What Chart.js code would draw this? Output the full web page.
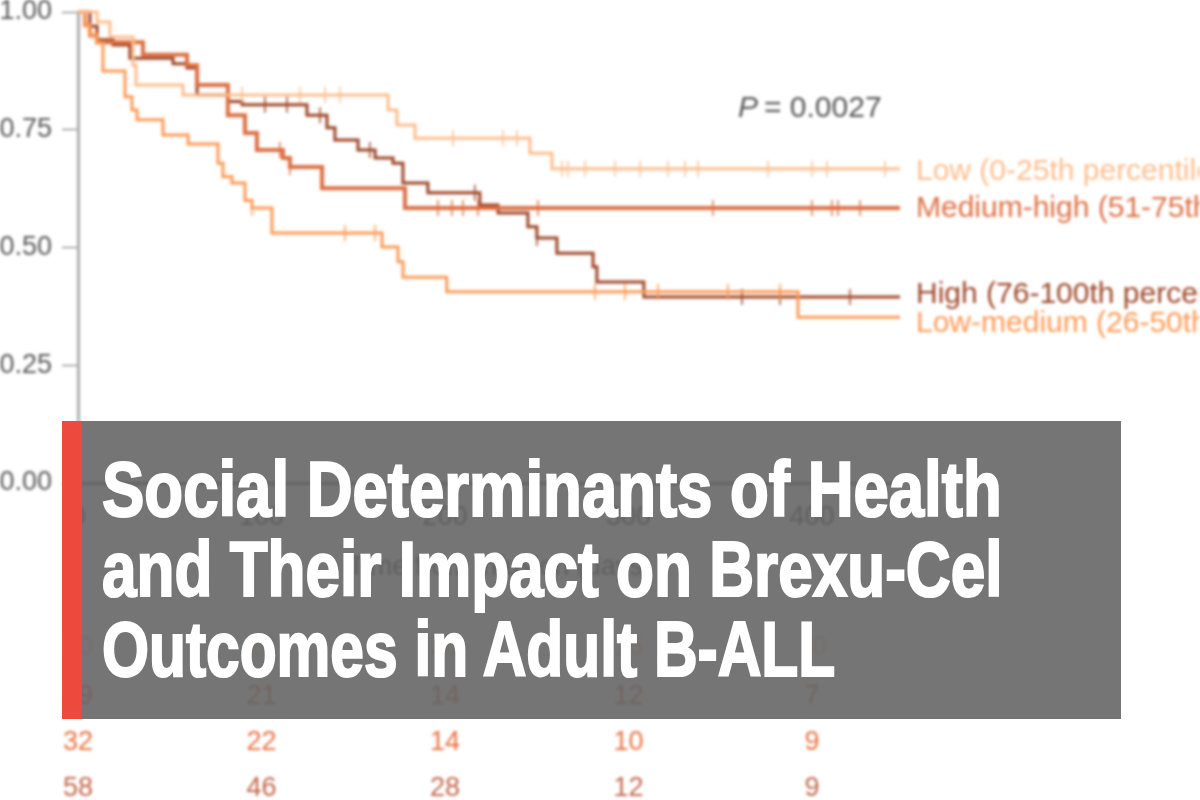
<!DOCTYPE html>
<html>
<head>
<meta charset="utf-8">
<title>Social Determinants of Health</title>
<script src="https://cdn.jsdelivr.net/npm/chart.js@4"></script>
<style>
    html, body { margin: 0; padding: 0; background: #fff; overflow: hidden; }
    #wrap { position: relative; width: 1200px; height: 800px; overflow: hidden; }
    #chart { position: absolute; left: 0; top: 0; filter: blur(1.4px); }
    #banner { position: absolute; left: 62px; top: 421px; width: 1059px; height: 298px; background: rgba(98, 98, 98, 0.88); }
    #stripe { position: absolute; left: 0; top: 0; width: 20px; height: 100%; background: #ec4a3c; }
    .line {
        position: absolute; left: 40px; color: #fff; white-space: nowrap;
        font: bold 78px/80px "Liberation Sans", sans-serif;
        -webkit-text-stroke: 2.2px #fff;
        transform-origin: left center;
    }
</style>
</head>
<body>
<div id="wrap">
    <canvas id="chart" width="1200" height="800"></canvas>
    <div id="banner">
        <div id="stripe"></div>
        <div class="line" style="top: 28px; transform: scaleX(0.814);">Social Determinants of Health</div>
        <div class="line" style="top: 108px; transform: scaleX(0.796);">and Their Impact on Brexu-Cel</div>
        <div class="line" style="top: 188px; transform: scaleX(0.775);">Outcomes in Adult B-ALL</div>
    </div>
</div>
<script>
// Survival curves
const lowTimes = [0, 10.4, 17.4, 30, 31.6, 57.2, 169, 173.8, 183.7, 246.3, 258.3, 448];
const lowSurv = [1, 0.979, 0.947, 0.887, 0.845, 0.824, 0.792, 0.76, 0.732, 0.70, 0.667, 0.667];
const lowMedTimes = [0, 3.8, 6.5, 10.4, 13.6, 25.6, 29.4, 32.2, 46.3, 60, 76.3, 79, 83.9, 91, 94.8, 105.7, 165.7, 174.4, 177.1, 201, 392.4, 448];
const lowMedSurv = [1, 0.972, 0.951, 0.934, 0.875, 0.82, 0.792, 0.771, 0.739, 0.72, 0.679, 0.65, 0.637, 0.60, 0.584, 0.531, 0.501, 0.47, 0.437, 0.406, 0.352, 0.352];
const medHighTimes = [0, 3.8, 6.5, 10.4, 35.4, 59.4, 64.9, 81.7, 91, 97.5, 111.7, 115.5, 133, 178.2, 448];
const medHighSurv = [1, 0.972, 0.95, 0.936, 0.909, 0.887, 0.845, 0.781, 0.743, 0.707, 0.69, 0.671, 0.626, 0.584, 0.584];
const highTimes = [0, 6.5, 10.4, 19.1, 28.3, 51.8, 59.4, 64.9, 81.7, 89.4, 124.8, 135.7, 140, 152.6, 161.9, 171.7, 177.1, 190.7, 219, 228.9, 245.2, 250.1, 261, 280.7, 282.8, 308.4, 448];
const highSurv = [1, 0.97, 0.941, 0.93, 0.902, 0.89, 0.881, 0.824, 0.81, 0.803, 0.781, 0.754, 0.728, 0.707, 0.69, 0.679, 0.637, 0.616, 0.59, 0.573, 0.544, 0.52, 0.488, 0.459, 0.427, 0.395, 0.395];

// Censoring marks
const lowCensT = [89.4, 121, 134.6, 142.8, 204.4, 231.6, 239.2, 263.8, 267, 276.3, 292.6, 306.3, 321.5, 330.8, 337.9, 376, 400, 408.2, 439.8];
const lowCensS = [0.824, 0.824, 0.824, 0.824, 0.732, 0.732, 0.732, 0.667, 0.667, 0.667, 0.667, 0.667, 0.667, 0.667, 0.667, 0.667, 0.667, 0.667, 0.667];
const lowMedCensT = [94.8, 145.5, 161.9, 281.7, 298.1, 316.1, 354.2, 382.6];
const lowMedCensS = [0.584, 0.531, 0.531, 0.406, 0.406, 0.406, 0.406, 0.406];
const medHighCensT = [110, 115.5, 196.2, 203.8, 209.8, 218, 250.7, 346, 400, 410.9, 414.2, 426.2];
const medHighCensS = [0.707, 0.671, 0.584, 0.584, 0.584, 0.584, 0.584, 0.584, 0.584, 0.584, 0.584, 0.584];
const highCensT = [101.9, 113.9, 131.9, 159, 216.3, 250.1, 361.9, 382.6, 420.7];
const highCensS = [0.803, 0.803, 0.781, 0.707, 0.616, 0.52, 0.395, 0.395, 0.395];

// Axes
const xTicks = [0, 100, 200, 300, 400];
const yTicks = [0, 0.25, 0.5, 0.75, 1];
const xTitle = 'Time from infusion (days)';
const pValue = '0.0027';

// Numbers at risk (first row is mostly hidden behind the banner)
const riskRow1 = ['30', '28', '20', '15', '10'];
const riskRow2 = ['39', '21', '14', '12', '7'];
const riskRow3 = ['32', '22', '14', '10', '9'];
const riskRow4 = ['58', '46', '28', '12', '9'];

const curveLabels = ['Low (0-25th percentile)', 'Medium-high (51-75th percentile)', 'High (76-100th percentile)', 'Low-medium (26-50th percentile)'];

const LOW = '#fdbd8c', LOWMED = '#fd9a55', MEDHIGH = '#dc6f42', HIGH = '#9c4526';

function zip(xs, ys) {
    return xs.map((x, i) => ({ x: x, y: ys[i] }));
}

function curve(label, xs, ys, color, width) {
    return { label: label, data: zip(xs, ys), borderColor: color, borderWidth: width, stepped: true, pointRadius: 0, fill: false };
}

function marks(xs, ys, color) {
    return { type: 'scatter', data: zip(xs, ys), showLine: false, borderColor: color, backgroundColor: color, borderWidth: 1.5, pointStyle: 'line', pointRotation: 90, pointRadius: 8 };
}

// P value, curve labels, at-risk table and x axis title are text on the canvas
const annotations = {
    id: 'annotations',
    afterDraw(chart) {
        const ctx = chart.ctx;
        const x = chart.scales.x;
        ctx.save();
        ctx.textBaseline = 'middle';
        ctx.textAlign = 'left';

        ctx.fillStyle = '#555';
        ctx.font = 'italic 30px "Liberation Sans"';
        ctx.fillText('P', 738, 109);
        ctx.font = '30px "Liberation Sans"';
        ctx.fillText('= ' + pValue, 764, 109);

        ctx.font = '30px "Liberation Sans"';
        [[LOW, 172], [MEDHIGH, 209], [HIGH, 295], [LOWMED, 324]].forEach(function(row, i) {
            ctx.fillStyle = row[0];
            ctx.fillText(curveLabels[i], 916, row[1]);
        });

        ctx.textAlign = 'center';
        ctx.fillStyle = '#444';
        ctx.font = '27px "Liberation Sans"';
        ctx.fillText(xTitle, 500, 568);

        [[riskRow1, LOW, 648], [riskRow2, MEDHIGH, 697], [riskRow3, '#e8703f', 743], [riskRow4, '#c0654a', 789]].forEach(function(row) {
            ctx.fillStyle = row[1];
            row[0].forEach(function(v, i) {
                ctx.fillText(v, x.getPixelForValue(xTicks[i]), row[2]);
            });
        });
        ctx.restore();
    }
};

new Chart(document.getElementById('chart').getContext('2d'), {
    type: 'line',
    data: {
        datasets: [
            curve('Low', lowTimes, lowSurv, LOW, 3),
            marks(lowCensT, lowCensS, LOW),
            curve('Low-medium', lowMedTimes, lowMedSurv, LOWMED, 3),
            marks(lowMedCensT, lowMedCensS, LOWMED),
            curve('Medium-high', medHighTimes, medHighSurv, MEDHIGH, 4),
            marks(medHighCensT, medHighCensS, MEDHIGH),
            curve('High', highTimes, highSurv, HIGH, 3),
            marks(highCensT, highCensS, HIGH)
        ]
    },
    options: {
        responsive: false,
        animation: false,
        clip: false,
        layout: { padding: { top: 12, right: 300 } },
        plugins: { legend: { display: false }, tooltip: { enabled: false } },
        scales: {
            x: {
                type: 'linear',
                min: 0,
                max: 448,
                afterBuildTicks: s => { s.ticks = xTicks.map(v => ({ value: v })); },
                afterFit: s => { s.height = 317; s.paddingLeft = 0; s.paddingRight = 0; },
                ticks: { color: '#444', font: { size: 27, family: 'Liberation Sans' }, padding: 8, maxRotation: 0 },
                grid: { drawOnChartArea: false, color: '#666', tickLength: 10 },
                border: { color: '#777', width: 3 }
            },
            y: {
                min: 0,
                max: 1,
                afterBuildTicks: s => { s.ticks = yTicks.map(v => ({ value: v })); },
                afterFit: s => { s.width = 78; s.paddingTop = 0; s.paddingBottom = 0; },
                ticks: { color: '#555', font: { size: 27, family: 'Liberation Sans' }, padding: 10, callback: v => v.toFixed(2) },
                grid: { drawOnChartArea: false, color: '#666', tickLength: 16 },
                border: { color: '#aaa', width: 3 }
            }
        }
    },
    plugins: [annotations]
});
</script>
</body>
</html>
